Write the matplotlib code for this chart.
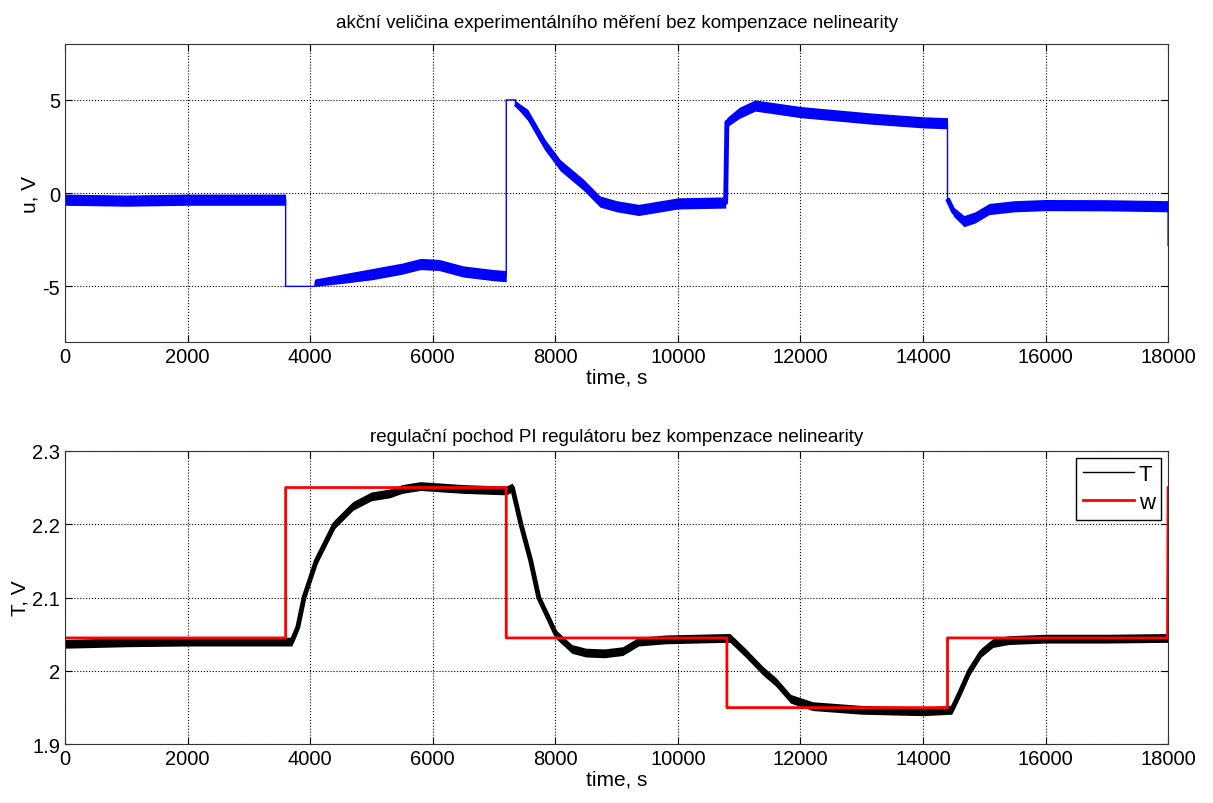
import matplotlib.pyplot as plt
import numpy as np

plt.rcParams['font.family'] = ['Liberation Sans', 'DejaVu Sans']
plt.rcParams['axes.unicode_minus'] = False

# akcni velicina u (stred pasma a rozptyl sumu)
t_u = [0, 1000, 2000, 3000, 3600, 3600, 4080, 4080, 4500, 5000, 5500, 5800, 6100, 6500, 7000, 7200,
       7200, 7350, 7350, 7550, 7830, 8080, 8460, 8730, 9000, 9360, 10000, 10780,
       10800, 11000, 11260, 12000, 13160, 14000, 14400,
       14400, 14500, 14670, 14850, 15080, 15500, 16000, 17000, 18000, 18000]
u_mid = [-0.35, -0.4, -0.35, -0.35, -0.35, -5.0, -5.0, -4.8, -4.6, -4.35, -4.05, -3.8, -3.85, -4.2, -4.4, -4.45,
         5.0, 5.0, 4.8, 4.2, 2.6, 1.5, 0.45, -0.45, -0.7, -0.9, -0.55, -0.5,
         3.8, 4.3, 4.7, 4.35, 4.0, 3.8, 3.75,
         -0.3, -1.0, -1.5, -1.3, -0.85, -0.7, -0.64, -0.65, -0.7, -2.8]
u_spread = [0.3, 0.3, 0.3, 0.3, 0.3, 0.0, 0.0, 0.2, 0.25, 0.3, 0.3, 0.3, 0.3, 0.3, 0.3, 0.3,
            0.0, 0.0, 0.15, 0.3, 0.3, 0.3, 0.3, 0.3, 0.3, 0.3, 0.3, 0.3,
            0.25, 0.3, 0.3, 0.3, 0.3, 0.3, 0.3,
            0.1, 0.25, 0.3, 0.3, 0.3, 0.3, 0.3, 0.3, 0.3, 0.0]

# regulovana velicina T
t_T = [0, 1000, 2000, 3000, 3700, 3800, 3900, 4100, 4400, 4700, 5000, 5300, 5500, 5800, 6500, 7200, 7300,
       7440, 7600, 7730, 7900, 8010, 8270, 8500, 8800, 9100, 9360, 9800, 10800, 10850,
       11100, 11390, 11600, 11840, 12200, 13000, 14000, 14470, 14600, 14760, 14950, 15140,
       15400, 16000, 17000, 18000]
T_mid = [2.037, 2.039, 2.04, 2.04, 2.04, 2.06, 2.1, 2.15, 2.2, 2.225, 2.238, 2.242, 2.248, 2.252, 2.248, 2.246, 2.25,
         2.2, 2.15, 2.1, 2.07, 2.05, 2.03, 2.025, 2.024, 2.027, 2.04, 2.043, 2.045, 2.045,
         2.025, 2.0, 1.985, 1.962, 1.952, 1.947, 1.945, 1.947, 1.97, 2.0, 2.025, 2.038,
         2.042, 2.044, 2.044, 2.045]
T_spread = [0.006] * len(t_T)

# zadana hodnota w
t_w = [0, 3600, 3600, 7200, 7200, 10800, 10800, 14400, 14400, 17990, 18000]
w = [2.045, 2.045, 2.25, 2.25, 2.045, 2.045, 1.95, 1.95, 2.045, 2.045, 2.25]


def noisy_band(ax, t, mid, spread, color, label=None):
    t = np.array(t, dtype=float)
    mid = np.array(mid, dtype=float)
    spread = np.array(spread, dtype=float)
    ax.fill_between(t, mid - spread, mid + spread, color=color, lw=0)
    ax.plot(t, mid, color=color, lw=1, label=label)
    # spojite useky (bez skoku) kreslit tlusteji, at je sum videt i na svazich
    cuts = np.where(np.diff(t) == 0)[0] + 1
    for seg_t, seg_m, seg_s in zip(np.split(t, cuts), np.split(mid, cuts), np.split(spread, cuts)):
        if len(seg_t) > 1 and seg_s.max() > 0:
            ax.plot(seg_t, seg_m, color=color, lw=3.5, solid_capstyle='butt')


fig = plt.figure(figsize=(12.13, 8.04), dpi=100)
ax1 = fig.add_axes([0.0536, 0.573, 0.9094, 0.371])
ax2 = fig.add_axes([0.0536, 0.073, 0.9094, 0.365])

noisy_band(ax1, t_u, u_mid, u_spread, '#0000ff')
ax1.set_xlim(0, 18000)
ax1.set_ylim(-8, 8)
ax1.set_yticks([-5, 0, 5])
ax1.set_xticks(np.arange(0, 18001, 2000))
ax1.set_title('akční veličina experimentálního měření bez kompenzace nelinearity', fontsize=13.5, pad=12)
ax1.set_xlabel('time, s', fontsize=15, labelpad=1)
ax1.set_ylabel('u, V', fontsize=15, labelpad=2)

noisy_band(ax2, t_T, T_mid, T_spread, 'black', label='T')
ax2.plot(t_w, w, color='#ff0000', lw=2, label='w')
ax2.set_xlim(0, 18000)
ax2.set_ylim(1.9, 2.3)
ax2.set_yticks([1.9, 2.0, 2.1, 2.2, 2.3])
ax2.set_yticklabels(['1.9', '2', '2.1', '2.2', '2.3'])
ax2.set_xticks(np.arange(0, 18001, 2000))
ax2.set_title('regulační pochod PI regulátoru bez kompenzace nelinearity', fontsize=13.5, pad=7)
ax2.set_xlabel('time, s', fontsize=15, labelpad=1)
ax2.set_ylabel('T, V', fontsize=15, labelpad=2)
leg = ax2.legend(loc='upper right', fancybox=False, edgecolor='black', fontsize=16,
                 handlelength=2.3, handletextpad=0.2, borderaxespad=0.3, borderpad=0.3,
                 labelspacing=0.3, framealpha=1)
leg.get_frame().set_linewidth(1)

for ax in (ax1, ax2):
    ax.grid(True, color='black', linestyle=':', lw=0.8)
    ax.tick_params(direction='in', top=True, right=True, labelsize=14.5, length=5)
    for s in ax.spines.values():
        s.set_color('#333333')

fig.savefig('out.png', dpi=100)
